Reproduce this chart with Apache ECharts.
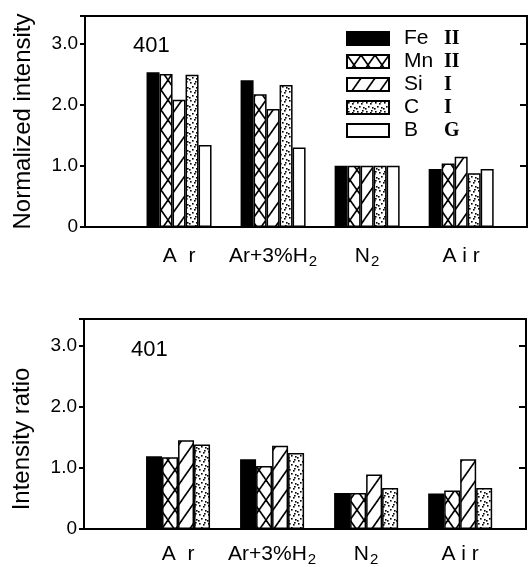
<!DOCTYPE html>
<html>
<head>
<meta charset="utf-8">
<script src="https://cdn.jsdelivr.net/npm/echarts@6/dist/echarts.min.js"></script>
<style>
  html, body { margin: 0; padding: 0; background: #fff; }
  #chart { width: 530px; height: 567px; }
</style>
</head>
<body>
<div id="chart"></div>
<script>
// gas categories (x positions 1..4)
const categories = ['A  r', 'Ar+3%H{sub|2}', 'N{sub|2}', 'A i r'];
const lineNames = ['Fe II', 'Mn II', 'Si I', 'C I', 'B G'];
const yTicks = [0, 1, 2, 3];

// top panel: normalized intensity
const normFe = [2.53, 2.40, 1.00, 0.95];
const normMn = [2.50, 2.17, 1.00, 1.04];
const normSi = [2.08, 1.93, 1.00, 1.15];
const normC = [2.49, 2.32, 1.00, 0.88];
const normBG = [1.34, 1.30, 1.00, 0.95];

// bottom panel: intensity ratio
const ratioFe = [1.19, 1.14, 0.59, 0.58];
const ratioMn = [1.17, 1.03, 0.59, 0.63];
const ratioSi = [1.45, 1.36, 0.89, 1.14];
const ratioC = [1.38, 1.24, 0.67, 0.67];

const FONT = 'Liberation Sans';

// fill patterns
function tile(w, h, draw) {
  const c = document.createElement('canvas');
  c.width = w;
  c.height = h;
  const ctx = c.getContext('2d');
  ctx.fillStyle = '#fff';
  ctx.fillRect(0, 0, w, h);
  ctx.strokeStyle = '#000';
  ctx.fillStyle = '#000';
  ctx.lineWidth = 1.6;
  draw(ctx, w, h);
  return { image: c, repeat: 'repeat' };
}
function line(ctx, x1, y1, x2, y2) {
  ctx.beginPath();
  ctx.moveTo(x1, y1);
  ctx.lineTo(x2, y2);
  ctx.stroke();
}
const crossFill = tile(14, 20, (ctx, w, h) => {
  line(ctx, -w, -h, 2 * w, 2 * h);
  line(ctx, 2 * w, -h, -w, 2 * h);
});
const slashFill = tile(14, 20, (ctx, w, h) => {
  line(ctx, -w, 2 * h, 2 * w, -h);
  line(ctx, -2 * w, 2 * h, w, -h);
  line(ctx, 0, 2 * h, 3 * w, -h);
});
const dotFill = tile(9, 9, (ctx) => {
  const pts = [[1, 1], [5, 2], [3, 5], [7, 6], [0, 7], [6, 0]];
  pts.forEach((p) => ctx.fillRect(p[0], p[1], 1.6, 1.6));
});
const fills = ['#000', crossFill, slashFill, dotFill, '#fff'];

function toData(vals) {
  return vals.map((v, i) => [i + 1, v]);
}

function barSeries(name, vals, k, panel, width) {
  return {
    name: name,
    type: 'bar',
    xAxisIndex: panel,
    yAxisIndex: panel * 2,
    data: toData(vals),
    barWidth: width,
    barGap: '0%',
    itemStyle: { color: fills[k], borderColor: '#000', borderWidth: 1.5 },
    animation: false
  };
}

const grids = [
  { left: 85, right: 2, top: 16, height: 211 },
  { left: 84, right: 4, top: 319, height: 211 }
];

function xAxis(gi, margin) {
  return {
    type: 'value',
    gridIndex: gi,
    min: 0,
    max: 4.7,
    interval: 1,
    splitLine: { show: false },
    axisTick: { show: false },
    axisLine: { show: true, lineStyle: { color: '#000', width: 2 } },
    axisLabel: {
      margin: margin,
      color: '#000',
      fontFamily: FONT,
      fontSize: 21,
      lineHeight: 26,
      formatter: (v) => (Number.isInteger(v) && v >= 1 && v <= 4 ? categories[v - 1] : ''),
      rich: {
        sub: {
          fontSize: 15, lineHeight: 14, verticalAlign: 'bottom',
          fontFamily: FONT, color: '#000', padding: [0, 0, 0, 1]
        }
      }
    }
  };
}

function yAxes(gi, max, name, shift) {
  const base = {
    type: 'value',
    gridIndex: gi,
    min: 0,
    max: max,
    interval: 1,
    splitLine: { show: false },
    axisLine: { show: true, lineStyle: { color: '#000', width: 2 } }
  };
  return [
    Object.assign({}, base, {
      position: 'left',
      name: name,
      nameLocation: 'middle',
      nameGap: 50,
      nameTextStyle: {
        color: '#000', fontFamily: FONT, fontSize: 24,
        padding: shift > 0 ? [0, shift, 0, 0] : [0, 0, 0, 0]
      },
      axisTick: { show: true, inside: false, length: 5, lineStyle: { color: '#000', width: 2 } },
      axisLabel: {
        margin: 7, color: '#000', fontFamily: FONT, fontSize: 19,
        formatter: (v) => (yTicks.indexOf(v) < 0 ? '' : (v === 0 ? '0' : v.toFixed(1)))
      }
    }),
    Object.assign({}, base, {
      position: 'right',
      axisTick: { show: true, inside: true, length: 7, lineStyle: { color: '#000', width: 2 } },
      axisLabel: { show: false }
    })
  ];
}

const chart = echarts.init(document.getElementById('chart'), null, { renderer: 'canvas' });

chart.setOption({
  animation: false,
  backgroundColor: '#fff',
  title: [
    { text: '401', left: 128, top: 30, textStyle: { fontFamily: FONT, fontSize: 22, fontWeight: 'normal', color: '#000' } },
    { text: '401', left: 126, top: 334, textStyle: { fontFamily: FONT, fontSize: 22, fontWeight: 'normal', color: '#000' } }
  ],
  grid: grids.map((g) => Object.assign({ show: true, borderColor: '#000', borderWidth: 2, backgroundColor: 'transparent' }, g)),
  xAxis: [xAxis(0, 16), xAxis(1, 12)],
  yAxis: yAxes(0, 3.45, 'Normalized intensity', 0).concat(yAxes(1, 3.43, 'Intensity ratio', 30)),
  legend: {
    data: lineNames,
    orient: 'vertical',
    left: 341,
    top: 23,
    icon: 'rect',
    itemWidth: 42,
    itemHeight: 13,
    itemGap: 2,
    selectedMode: false,
    textStyle: {
      color: '#000', fontFamily: FONT, fontSize: 21, lineHeight: 18,
      rich: {
        e: { width: 40, padding: [0, 0, 0, 10], fontFamily: FONT, fontSize: 21, color: '#000' },
        n: { fontFamily: 'Liberation Serif', fontWeight: 'bold', fontSize: 20, color: '#000' }
      }
    },
    formatter: (name) => {
      const parts = name.split(' ');
      return '{e|' + parts[0] + '}{n|' + parts[1] + '}';
    }
  },
  series: [
    barSeries(lineNames[0], normFe, 0, 0, 13),
    barSeries(lineNames[1], normMn, 1, 0, 13),
    barSeries(lineNames[2], normSi, 2, 0, 13),
    barSeries(lineNames[3], normC, 3, 0, 13),
    barSeries(lineNames[4], normBG, 4, 0, 13),
    barSeries(lineNames[0], ratioFe, 0, 1, 16),
    barSeries(lineNames[1], ratioMn, 1, 1, 16),
    barSeries(lineNames[2], ratioSi, 2, 1, 16),
    barSeries(lineNames[3], ratioC, 3, 1, 16)
  ]
});
</script>
</body>
</html>
